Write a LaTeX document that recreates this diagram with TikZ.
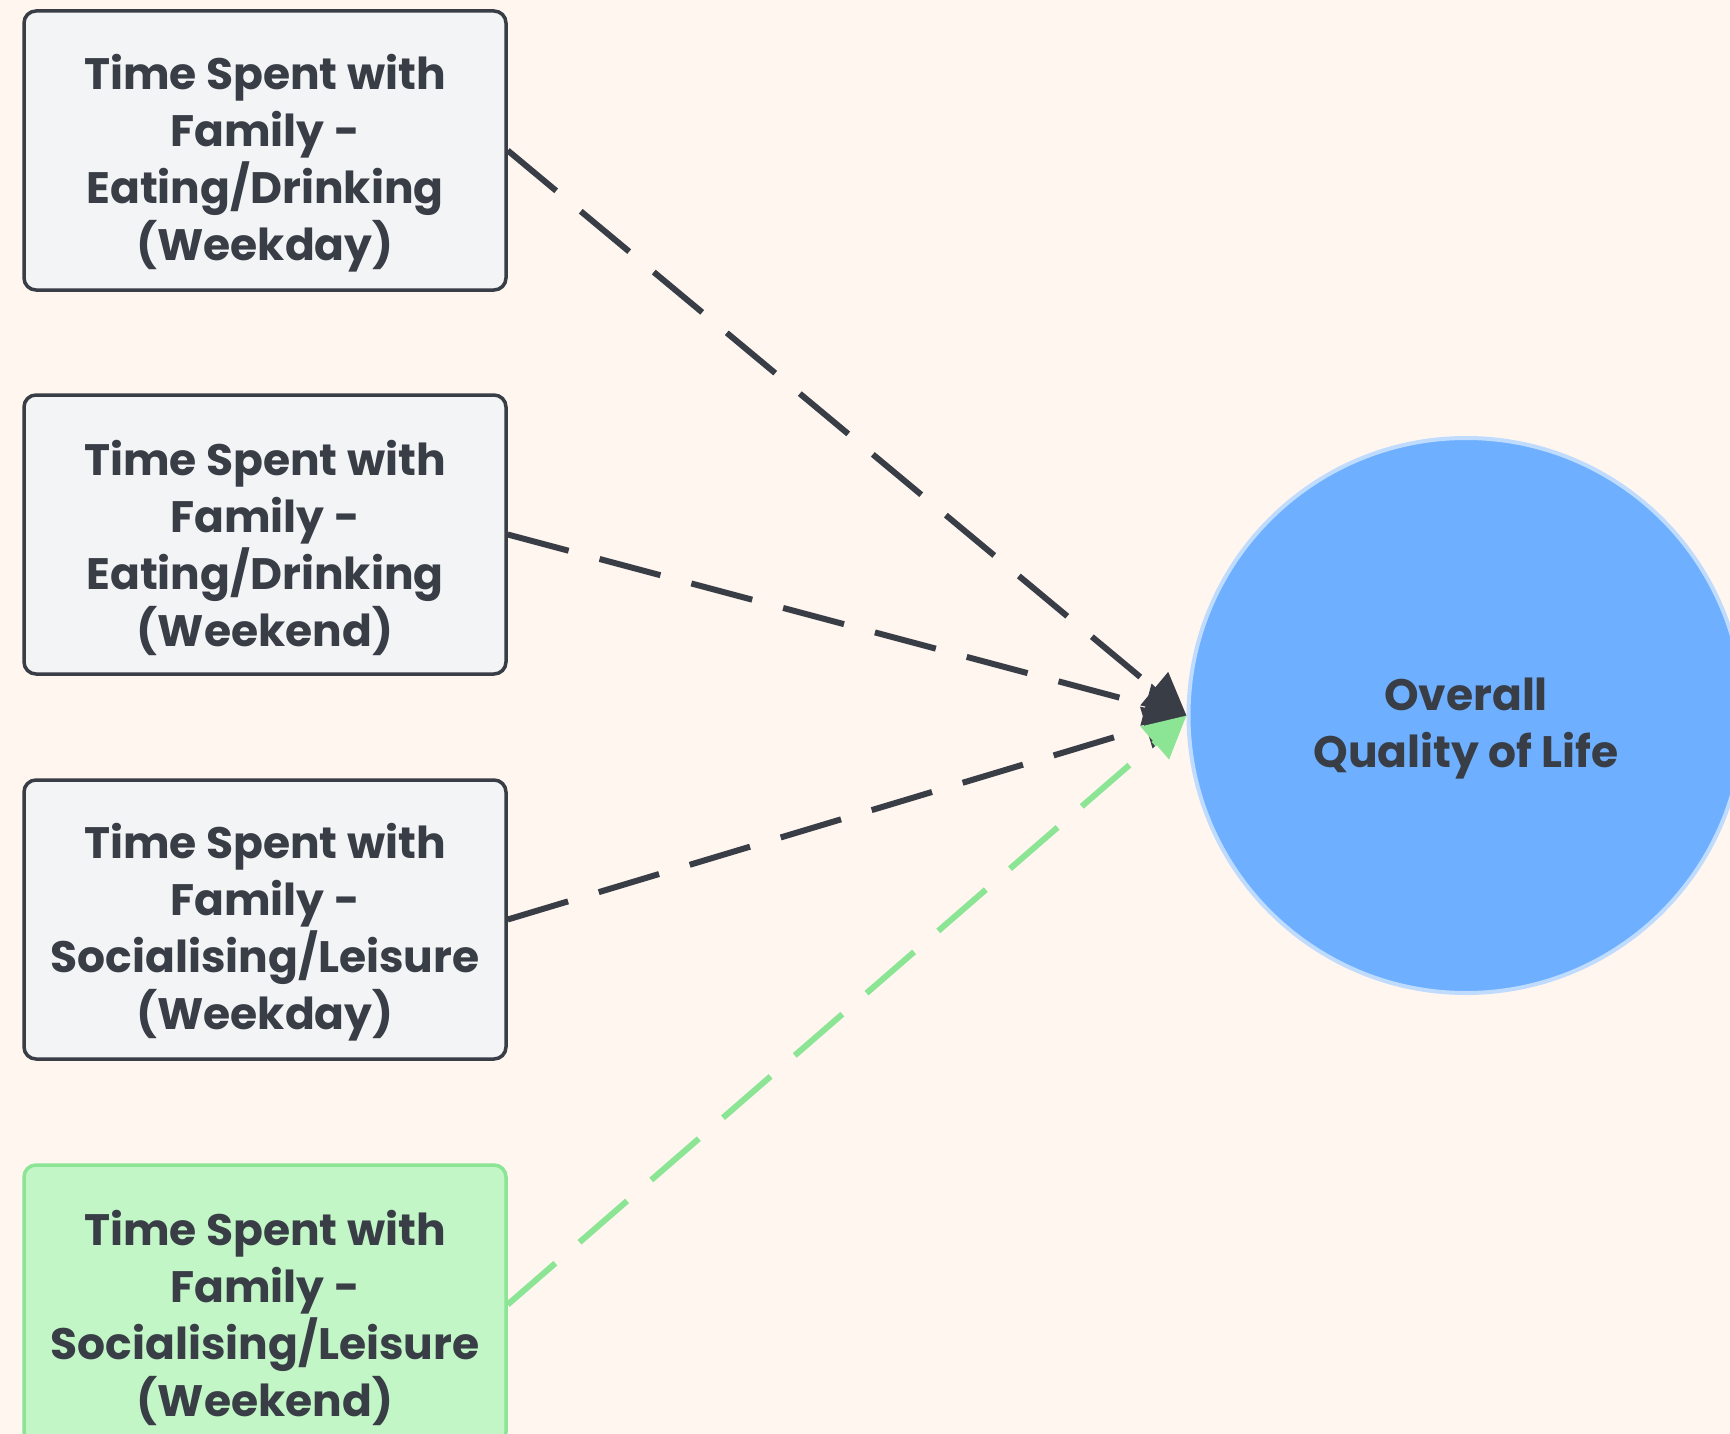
\documentclass[tikz,border=0pt]{standalone}
\usepackage{fontspec}
\setmainfont{Poppins}
\usetikzlibrary{arrows.meta}

\definecolor{paper}{HTML}{FFF6F0}
\definecolor{ink}{HTML}{383D46}
\definecolor{boxfill}{HTML}{F3F4F6}
\definecolor{greenfill}{HTML}{C2F6C6}
\definecolor{greenline}{HTML}{8BE594}
\definecolor{bluefill}{HTML}{6EB0FF}
\definecolor{blueline}{HTML}{BFDBFE}

\tikzset{
  factor/.style={draw=ink, fill=boxfill, line width=3.5pt, rounded corners=12pt,
    minimum width=482pt, minimum height=279pt, inner sep=0pt},
  factorgreen/.style={factor, draw=greenline, fill=greenfill},
  outcome/.style={circle, draw=blueline, fill=bluefill, line width=4pt,
    minimum size=555pt, inner sep=0pt},
  caption/.style={align=center, text=ink, inner sep=0pt, yshift=-13pt,
    font=\fontsize{44}{57}\selectfont\bfseries},
  link/.style={draw=ink, line width=6pt, dash pattern=on 63pt off 32pt,
    -{Triangle[length=42pt,width=42pt]}},
  linkgreen/.style={link, draw=greenline}
}

\begin{document}
\begin{tikzpicture}[x=1pt, y=-1pt]
  \fill[paper] (0,0) rectangle (1730,1434);
  \useasboundingbox (0,0) rectangle (1730,1434);

  % factor boxes on the left
  \node[factor] (wdEat) at (265,150.5) {};
  \node[factor] (weEat) at (265,534.5) {};
  \node[factor] (wdSoc) at (265,919.5) {};
  \node[factorgreen] (weSoc) at (265,1304.5) {};

  % outcome circle on the right
  \node[outcome] (qol) at (1466,715.5) {};

  % dashed links into the outcome
  \draw[link] (wdEat.east) -- (qol.west);
  \draw[link] (weEat.east) -- (qol.west);
  \draw[link] (wdSoc.east) -- (qol.west);
  \draw[linkgreen] (weSoc.east) -- (qol.west);

  % captions
  \node[caption] (wdEatT) at (wdEat.center)
    {Time Spent with\\Family -\\Eating/Drinking\\(Weekday)};
  \node[caption] (weEatT) at (weEat.center)
    {Time Spent with\\Family -\\Eating/Drinking\\(Weekend)};
  \node[caption] (wdSocT) at (wdSoc.center)
    {Time Spent with\\Family -\\Socialising/Leisure\\(Weekday)};
  \node[caption] (weSocT) at (weSoc.center)
    {Time Spent with\\Family -\\Socialising/Leisure\\(Weekend)};
  \node[caption] (qolT) at (qol.center) {Overall\\Quality of Life};
\end{tikzpicture}
\end{document}
